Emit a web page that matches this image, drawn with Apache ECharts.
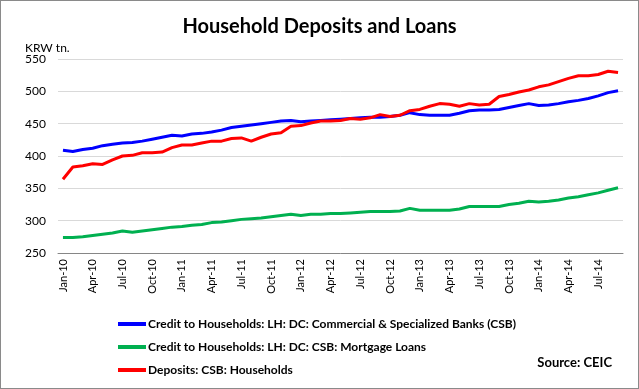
<!DOCTYPE html>
<html>
<head>
<meta charset="utf-8">
<script src="https://cdn.jsdelivr.net/npm/echarts@6/dist/echarts.min.js"></script>
<style>
html,body{margin:0;padding:0;background:#fff;}
#chart{width:639px;height:389px;box-sizing:border-box;border:1px solid #8a8a8a;}
</style>
</head>
<body>
<div id="chart"></div>
<script>
var categories = ["Jan-10","Feb-10","Mar-10","Apr-10","May-10","Jun-10","Jul-10","Aug-10","Sep-10","Oct-10","Nov-10","Dec-10",
"Jan-11","Feb-11","Mar-11","Apr-11","May-11","Jun-11","Jul-11","Aug-11","Sep-11","Oct-11","Nov-11","Dec-11",
"Jan-12","Feb-12","Mar-12","Apr-12","May-12","Jun-12","Jul-12","Aug-12","Sep-12","Oct-12","Nov-12","Dec-12",
"Jan-13","Feb-13","Mar-13","Apr-13","May-13","Jun-13","Jul-13","Aug-13","Sep-13","Oct-13","Nov-13","Dec-13",
"Jan-14","Feb-14","Mar-14","Apr-14","May-14","Jun-14","Jul-14","Aug-14","Sep-14"];

var creditCSB = [409,407,410,412,416,418,420,421,423,426,429,432,431,434,435,437,440,444,446,448,450,452,454,455,453,454,455,456,457,458,459,460,460,461,463,467,464,463,463,463,466,470,471,471,472,475,478,481,478,479,481,484,486,489,493,498,501];
var mortgage = [274,274,275,277,279,281,284,282,284,286,288,290,291,293,294,297,298,300,302,303,304,306,308,310,308,310,310,311,311,312,313,314,314,314,315,319,316,316,316,316,318,322,322,322,322,325,327,330,329,330,332,335,337,340,343,347,351];
var deposits = [364,383,385,388,387,394,400,401,405,405,406,413,417,417,420,423,423,427,428,423,429,434,436,446,447,451,454,454,455,458,457,459,464,461,463,470,472,477,481,480,477,481,479,480,492,495,499,502,507,510,515,520,524,524,526,531,529];

var yTicks = [250,300,350,400,450,500,550];
var seriesNames = ["Credit to Households: LH: DC: Commercial & Specialized Banks (CSB)","Credit to Households: LH: DC: CSB: Mortgage Loans","Deposits: CSB: Households"];

var chart = echarts.init(document.getElementById('chart'));
var font = 'Lato, "Open Sans", sans-serif';
chart.setOption({
  animation:false,
  backgroundColor:'#fff',
  title:{text:'Household Deposits and Loans',left:'center',top:11,
    textStyle:{fontFamily:font,fontSize:20,fontWeight:'bold',color:'#000'}},
  graphic:[
    {type:'text',left:24,top:41,style:{text:'KRW tn.',font:'12px '+font,fill:'#000'}},
    {type:'text',right:26,top:355,style:{text:'Source: CEIC',font:'bold 13px '+font,fill:'#000'}}
  ],
  grid:{left:57,right:15,top:58,bottom:135,containLabel:false},
  legend:{orient:'vertical',left:112,top:312,itemWidth:28,itemHeight:4,itemGap:11,icon:'rect',
    textStyle:{fontFamily:font,fontSize:12,fontWeight:'bold',color:'#000',padding:[0,0,0,-3]},
    data:seriesNames},
  xAxis:{type:'category',data:categories,boundaryGap:true,
    axisLine:{lineStyle:{color:'#868686',width:1}},axisTick:{show:false},
    axisLabel:{rotate:90,interval:2,margin:6,fontFamily:font,fontSize:11,color:'#000'}},
  yAxis:{type:'value',min:yTicks[0],max:yTicks[yTicks.length-1],interval:50,
    axisLine:{show:false},axisTick:{show:false},
    splitLine:{lineStyle:{color:'#d9d9d9',width:1}},
    axisLabel:{margin:12,fontFamily:font,fontSize:12,color:'#000'}},
  series:[
    {name:seriesNames[0],type:'line',data:creditCSB,symbol:'none',lineStyle:{color:'#0000ff',width:3},itemStyle:{color:'#0000ff'}},
    {name:seriesNames[1],type:'line',data:mortgage,symbol:'none',lineStyle:{color:'#00b050',width:3},itemStyle:{color:'#00b050'}},
    {name:seriesNames[2],type:'line',data:deposits,symbol:'none',lineStyle:{color:'#ff0000',width:3},itemStyle:{color:'#ff0000'}}
  ]
});
</script>
</body>
</html>
